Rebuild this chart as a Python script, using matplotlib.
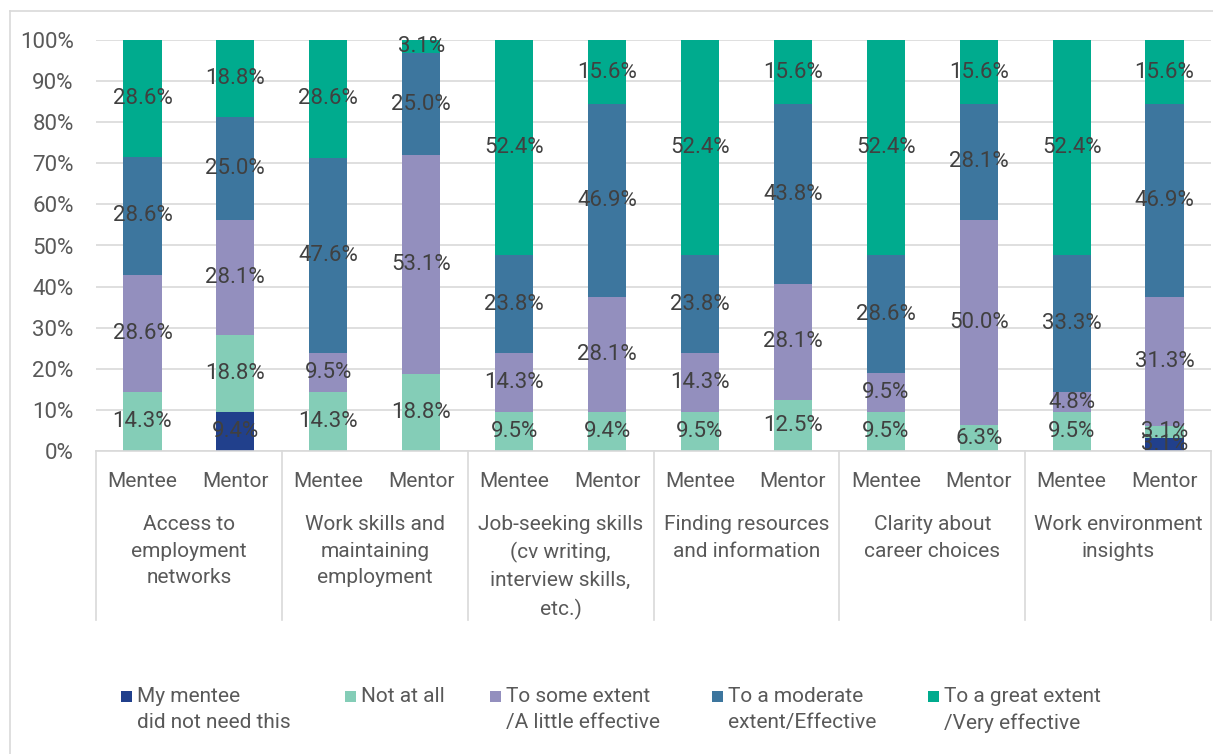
import matplotlib
matplotlib.use("Agg")
import matplotlib.pyplot as plt
import numpy as np
from matplotlib.patches import Rectangle
from matplotlib.lines import Line2D
from matplotlib.transforms import blended_transform_factory

plt.rcParams['font.family'] = ['Roboto', 'DejaVu Sans']

categories = [
    "Access to\nemployment\nnetworks",
    "Work skills and\nmaintaining\nemployment",
    "Job-seeking skills\n(cv writing,\ninterview skills,\netc.)",
    "Finding resources\nand information",
    "Clarity about\ncareer choices",
    "Work environment\ninsights",
]
roles = ["Mentee", "Mentor"]

series_names = [
    "My mentee\ndid not need this",
    "Not at all",
    "To some extent\n/A little effective",
    "To a moderate\nextent/Effective",
    "To a great extent\n/Very effective",
]
colors = ["#21408C", "#84CDB7", "#938FBE", "#3D769E", "#00AB8E"]

# Percentages per bar, ordered Mentee/Mentor within each category
did_not_need = [0, 9.4, 0, 0, 0, 0, 0, 0, 0, 0, 0, 3.1]
not_at_all   = [14.3, 18.8, 14.3, 18.8, 9.5, 9.4, 9.5, 12.5, 9.5, 6.3, 9.5, 3.1]
some_extent  = [28.6, 28.1, 9.5, 53.1, 14.3, 28.1, 14.3, 28.1, 9.5, 50.0, 4.8, 31.3]
moderate     = [28.6, 25.0, 47.6, 25.0, 23.8, 46.9, 23.8, 43.8, 28.6, 28.1, 33.3, 46.9]
great_extent = [28.6, 18.8, 28.6, 3.1, 52.4, 15.6, 52.4, 15.6, 52.4, 15.6, 52.4, 15.6]

series = [did_not_need, not_at_all, some_extent, moderate, great_extent]

W, H = 1213, 754
fig = plt.figure(figsize=(W / 100, H / 100), dpi=100)
ax = fig.add_axes([96 / W, 1 - 451 / H, (1211 - 96) / W, 411 / H])

n = len(categories) * len(roles)
x = np.arange(n)
bottom = np.zeros(n)
label_color = "#404040"
axis_text = "#595959"
for vals, col in zip(series, colors):
    vals = np.array(vals, dtype=float)
    ax.bar(x, vals, 0.41, bottom=bottom, color=col, zorder=2)
    for xi, b, v in zip(x, bottom, vals):
        if v > 0:
            ax.text(xi, b + v / 2, f"{v:.1f}%", ha="center", va="center",
                    fontsize=16, color=label_color, zorder=3)
    bottom += vals

ax.set_xlim(-0.5, n - 0.5)
ax.set_ylim(0, 100)
ax.set_yticks(np.arange(0, 101, 10))
ax.set_yticklabels([f"{v}%" for v in range(0, 101, 10)], fontsize=16, color=axis_text)
ax.tick_params(axis="y", length=0, pad=16)
ax.set_xticks([])
ax.grid(axis="y", color="#D9D9D9", linewidth=1.2, zorder=0)
for s in ["left", "right", "top"]:
    ax.spines[s].set_visible(False)
ax.spines["bottom"].set_color("#D9D9D9")
ax.spines["bottom"].set_linewidth(1.2)

# Two-level category axis
trans = blended_transform_factory(ax.transData, ax.transAxes)
for i in range(n):
    ax.text(x[i], -0.075, roles[i % 2], transform=trans, ha="center", va="center",
            fontsize=15, color=axis_text)
for g, cat in enumerate(categories):
    ax.text(2 * g + 0.5, -0.155, cat, transform=trans, ha="center", va="top",
            fontsize=15, color=axis_text, linespacing=1.52)
for b in np.arange(-0.5, n, 2):
    ax.add_line(Line2D([b, b], [0, -0.41], transform=trans, color="#D9D9D9",
                       linewidth=1.2, clip_on=False))

# Outer chart frame
fig.add_artist(Line2D([10 / W, 10 / W], [0, 1 - 11 / H], transform=fig.transFigure,
                      color="#D9D9D9", linewidth=1.2))
fig.add_artist(Line2D([10 / W, 1], [1 - 11 / H, 1 - 11 / H], transform=fig.transFigure,
                      color="#D9D9D9", linewidth=1.2))

# Legend: square key aligned with the first line of each entry
legend_x = [121, 345, 490, 712, 928]
key = 11
for lx, name, col in zip(legend_x, series_names, colors):
    fig.add_artist(Rectangle((lx / W, 1 - (696 + key / 2) / H), key / W, key / H,
                             transform=fig.transFigure, facecolor=col, edgecolor="none"))
    fig.text((lx + key + 5) / W, 1 - 687 / H, name, ha="left", va="top",
             fontsize=15, color=axis_text, linespacing=1.48,
             transform=fig.transFigure)

fig.savefig("out.png", dpi=100)
